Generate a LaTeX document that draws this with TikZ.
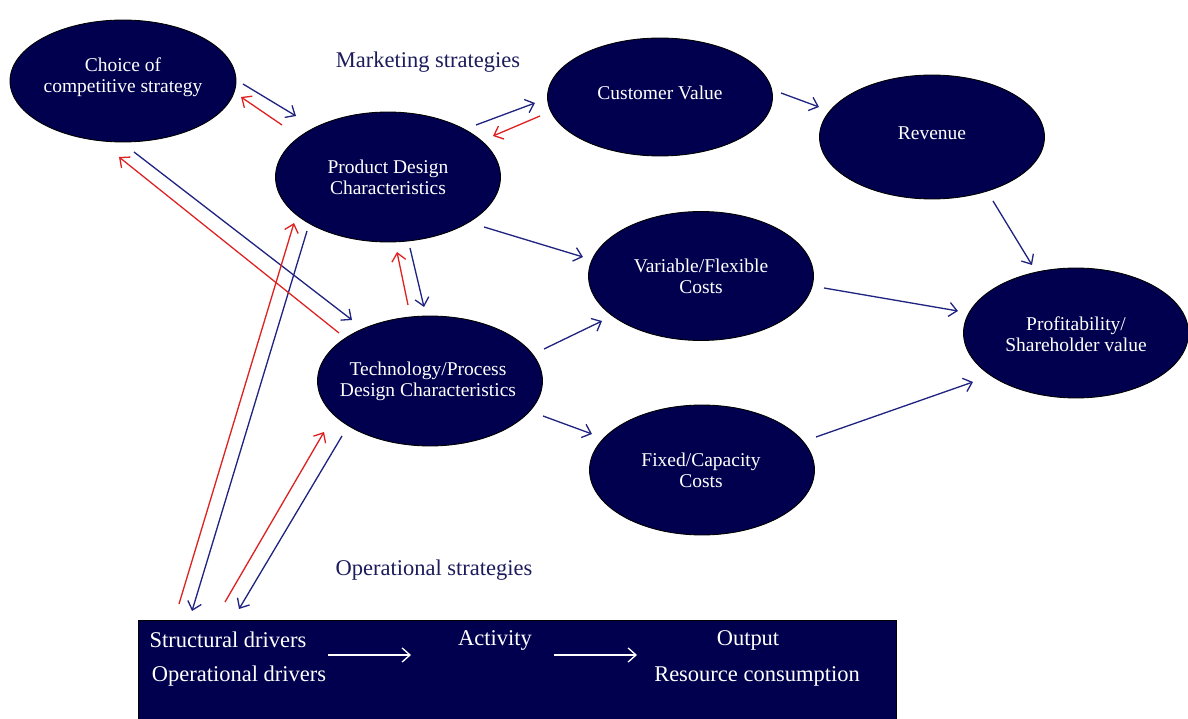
\documentclass[tikz,border=0pt]{standalone}
\usepackage{fontspec}
\setmainfont{Liberation Serif}
\usetikzlibrary{shapes.geometric,arrows.meta}
\definecolor{navyfill}{RGB}{0,0,78}
\definecolor{navyline}{RGB}{32,36,128}
\definecolor{redline}{RGB}{222,34,34}
\definecolor{labelnavy}{RGB}{28,28,92}
\tikzset{
  bubble/.style={ellipse, draw=black, line width=0.5pt, fill=navyfill,
    inner sep=0pt, minimum width=4.5cm, minimum height=2.6cm},
  bubbletext/.style={text=white, align=center, inner sep=0pt, font=\fontsize{11.1}{12.1}\selectfont},
  fwd/.style={draw=navyline, line width=0.75pt, -{Straight Barb[length=4.5pt,width=8pt]}},
  back/.style={draw=redline, line width=0.75pt, -{Straight Barb[length=4.5pt,width=8pt]}},
  inbox/.style={draw=white, line width=0.75pt, -{Straight Barb[length=4.5pt,width=8pt]}},
  heading/.style={text=labelnavy, font=\fontsize{12.8}{15}\selectfont},
  boxtext/.style={text=white, font=\fontsize{12.8}{15}\selectfont, inner sep=0pt},
}
\begin{document}
\begin{tikzpicture}[x=0.02cm,y=-0.02cm]
\useasboundingbox (0,0) rectangle (1188,719);

% driver box along the bottom edge
\draw[fill=navyfill, draw=black, line width=0.5pt] (138,620) rectangle (896,724);
\node[boxtext] (struct) at (228,640) {Structural drivers};
\node[boxtext] (oper)   at (239,676) {Operational drivers};
\node[boxtext] (act)    at (495,640) {Activity};
\node[boxtext] (outp)   at (748,640) {Output};
\node[boxtext] (resc)   at (757,676) {Resource consumption};
\coordinate (ia1) at (328,655); \coordinate (ia2) at (411,655);
\coordinate (ib1) at (554,655); \coordinate (ib2) at (637,655);
\draw[inbox] (ia1) -- (ia2);
\draw[inbox] (ib1) -- (ib2);

% strategy bubbles (shape first, caption on top)
\node[bubble, minimum width=4.52cm, minimum height=2.44cm] (choice) at (123,81) {};
\node[bubbletext] (choicet) at (123,77) {Choice of\\competitive strategy};
\node[bubble] (pdc) at (388,177) {};
\node[bubbletext] (pdct) at (388,177) {Product Design\\Characteristics};
\node[bubble, minimum height=2.36cm] (cv) at (660,97) {};
\node[bubbletext] (cvt) at (660,93) {Customer Value};
\node[bubble, minimum height=2.48cm] (rev) at (932,137) {};
\node[bubbletext] (revt) at (932,133) {Revenue};
\node[bubble, minimum height=2.58cm] (vfc) at (701,276) {};
\node[bubbletext] (vfct) at (701,276) {Variable/Flexible\\Costs};
\node[bubble] (prof) at (1076,333) {};
\node[bubbletext] (proft) at (1076,334) {Profitability/\\Shareholder value};
\node[bubble] (tech) at (430,381) {};
\node[bubbletext] (techt) at (428,381) {Technology/Process\\Design Characteristics};
\node[bubble] (fcc) at (702,470) {};
\node[bubbletext] (fcct) at (701,470) {Fixed/Capacity\\Costs};

% section headings
\node[heading] (mkt) at (428,62) {Marketing strategies};
\node[heading] (ops) at (434,570) {Operational strategies};

% arrow end points
\coordinate (c2p1) at (243,84);  \coordinate (c2p2) at (296,116);
\coordinate (p2c1) at (282,125); \coordinate (p2c2) at (241,97);
\coordinate (p2v1) at (476,125); \coordinate (p2v2) at (535,103);
\coordinate (v2p1) at (540,116); \coordinate (v2p2) at (493,136);
\coordinate (v2r1) at (781,93);  \coordinate (v2r2) at (819,107);
\coordinate (p2f1) at (484,227); \coordinate (p2f2) at (583,257);
\coordinate (r2s1) at (993,201); \coordinate (r2s2) at (1032,265);
\coordinate (f2s1) at (824,288); \coordinate (f2s2) at (958,311);
\coordinate (x2s1) at (816,437); \coordinate (x2s2) at (973,382);
\coordinate (t2f1) at (544,349); \coordinate (t2f2) at (602,321);
\coordinate (t2x1) at (543,416); \coordinate (t2x2) at (592,434);
\coordinate (c2t1) at (134,152); \coordinate (c2t2) at (352,320);
\coordinate (t2c1) at (339,333); \coordinate (t2c2) at (119,157);
\coordinate (t2p1) at (408,305); \coordinate (t2p2) at (397,252);
\coordinate (p2t1) at (410,248); \coordinate (p2t2) at (424,307);
\coordinate (d2p1) at (179,604); \coordinate (d2p2) at (294,223);
\coordinate (p2d1) at (307,231); \coordinate (p2d2) at (192,611);
\coordinate (d2t1) at (225,602); \coordinate (d2t2) at (324,432);
\coordinate (t2d1) at (342,436); \coordinate (t2d2) at (239,609);

% forward links
\draw[fwd] (c2p1) -- (c2p2);
\draw[fwd] (p2v1) -- (p2v2);
\draw[fwd] (v2r1) -- (v2r2);
\draw[fwd] (p2f1) -- (p2f2);
\draw[fwd] (r2s1) -- (r2s2);
\draw[fwd] (f2s1) -- (f2s2);
\draw[fwd] (x2s1) -- (x2s2);
\draw[fwd] (t2f1) -- (t2f2);
\draw[fwd] (t2x1) -- (t2x2);
\draw[fwd] (c2t1) -- (c2t2);
\draw[fwd] (p2t1) -- (p2t2);
\draw[fwd] (p2d1) -- (p2d2);
\draw[fwd] (t2d1) -- (t2d2);

% feedback links
\draw[back] (p2c1) -- (p2c2);
\draw[back] (v2p1) -- (v2p2);
\draw[back] (t2c1) -- (t2c2);
\draw[back] (t2p1) -- (t2p2);
\draw[back] (d2p1) -- (d2p2);
\draw[back] (d2t1) -- (d2t2);
\end{tikzpicture}
\end{document}
